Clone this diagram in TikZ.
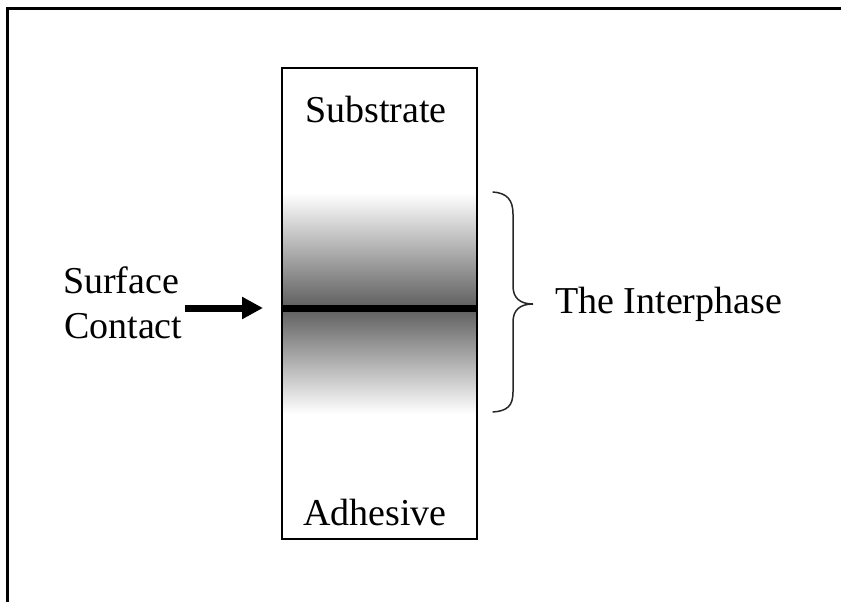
\documentclass[tikz,border=0pt]{standalone}
\usepackage{fontspec}
\setmainfont{Liberation Serif}
\usetikzlibrary{arrows.meta}
\begin{document}
\begin{tikzpicture}[x=1pt,y=-1pt,
  lbl/.style={font=\fontsize{38}{45}\selectfont, inner sep=0pt, anchor=base west},
  frameline/.style={line width=3.5pt, black},
  bracestyle/.style={line width=1.5pt, black!85, line cap=round}]
\useasboundingbox (0,0) rectangle (841,602);
% outer frame (top and left)
\draw[frameline] (7.7,602) -- (7.7,8.7) -- (841,8.7);
% shaded interphase
\fill[top color=white, bottom color=black!62] (282,193) rectangle (477,306);
\fill[top color=black!62, bottom color=white] (282,310) rectangle (477,414);
% box
\node[draw, line width=1.5pt, minimum width=195pt, minimum height=471pt, inner sep=0pt] (box) at (379.5,303.5) {};
% contact line
\draw[line width=7pt] (box.west |- 0,308) -- (box.east |- 0,308);
% labels
\node[lbl] (sub) at (305,122) {Substrate};
\node[lbl] (adh) at (303,525) {Adhesive};
\node[lbl] (surf) at (63,293) {Surface};
\node[lbl] (cont) at (64,338) {Contact};
\node[lbl] (inter) at (555,313) {The Interphase};
% arrow
\coordinate (atail) at (185,308);
\coordinate (ahead) at (263,308);
\draw[line width=7pt, -{Triangle[length=21pt,width=21pt]}] (atail) -- (ahead);
% brace
\coordinate (btop) at (493,192);
\coordinate (bbot) at (493,412);
\coordinate (btip) at (533,304);
\draw[bracestyle] (btop) .. controls (507,193) and (513,200) .. (513,214)
  -- (513,286) .. controls (513,298) and (520,304) .. (btip)
  .. controls (520,304) and (513,310) .. (513,322)
  -- (513,392) .. controls (513,406) and (507,411) .. (bbot);
\end{tikzpicture}
\end{document}
